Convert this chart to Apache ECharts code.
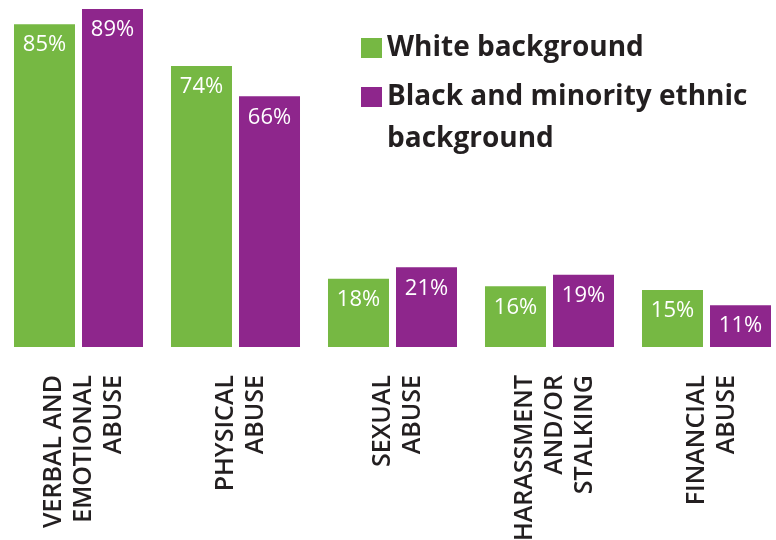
<!DOCTYPE html>
<html>
<head>
<meta charset="utf-8">
<script src="https://cdn.jsdelivr.net/npm/echarts@6/dist/echarts.min.js"></script>
<style>
  html, body { margin: 0; padding: 0; background: #fff; }
  #chart { width: 776px; height: 540px; }
</style>
</head>
<body>
<div id="chart"></div>
<script>
const categories = [
  'VERBAL AND\nEMOTIONAL\nABUSE',
  'PHYSICAL\nABUSE',
  'SEXUAL\nABUSE',
  'HARASSMENT\nAND/OR\nSTALKING',
  'FINANCIAL\nABUSE'
]
const whiteValues = [85, 74, 18, 16, 15]
const bameValues = [89, 66, 21, 19, 11]
const seriesNames = ['White background', 'Black and minority ethnic background']

const GREEN = '#76B843'
const PURPLE = '#8E268C'
const TEXT = '#231F20'

const chart = echarts.init(document.getElementById('chart'))

const barLabel = {
  show: true,
  position: 'insideTop',
  distance: 10,
  color: '#fff',
  fontFamily: 'Open Sans',
  fontSize: 22,
  formatter: p => p.value + '%'
}

const legendText = {
  fontFamily: 'Open Sans',
  fontSize: 28,
  fontWeight: 'bold',
  color: TEXT,
  lineHeight: 42
}

const catText = {
  color: TEXT,
  fontFamily: 'Open Sans',
  fontSize: 25,
  fontWeight: 600,
  lineHeight: 30
}

const option = {
  animation: false,
  legend: [
    {
      data: [seriesNames[0]],
      left: 361,
      top: 27,
      padding: 0,
      icon: 'rect',
      itemWidth: 21,
      itemHeight: 20,
      textStyle: legendText
    },
    {
      data: [seriesNames[1]],
      left: 361,
      top: 34,
      padding: 0,
      icon: 'rect',
      itemWidth: 21,
      itemHeight: 20,
      // leading empty line keeps the first text line level with the icon
      formatter: () => '\nBlack and minority ethnic\nbackground',
      textStyle: legendText
    }
  ],
  grid: {
    left: 0,
    top: 9,
    width: 785,
    height: 338,
    outerBoundsMode: 'none'
  },
  xAxis: {
    type: 'category',
    data: categories,
    axisLine: { show: false },
    axisTick: { show: false },
    axisLabel: Object.assign({
      rotate: 90,
      margin: 28,
      interval: 0,
      // small spacer line nudges the label block a few px to the right
      formatter: v => '{s| }\n' + v.split('\n').map(l => '{a|' + l + '}').join('\n'),
      rich: {
        s: { fontSize: 1, lineHeight: 10 },
        a: catText
      }
    }, catText)
  },
  yAxis: {
    type: 'value',
    min: 0,
    max: 89,
    show: false,
    splitLine: { show: false }
  },
  series: [
    {
      name: seriesNames[0],
      type: 'bar',
      data: whiteValues,
      barWidth: 61,
      barGap: '11.5%',
      itemStyle: { color: GREEN },
      label: barLabel
    },
    {
      name: seriesNames[1],
      type: 'bar',
      data: bameValues,
      barWidth: 61,
      barGap: '11.5%',
      itemStyle: { color: PURPLE },
      label: barLabel
    }
  ]
}

chart.setOption(option)
</script>
</body>
</html>
